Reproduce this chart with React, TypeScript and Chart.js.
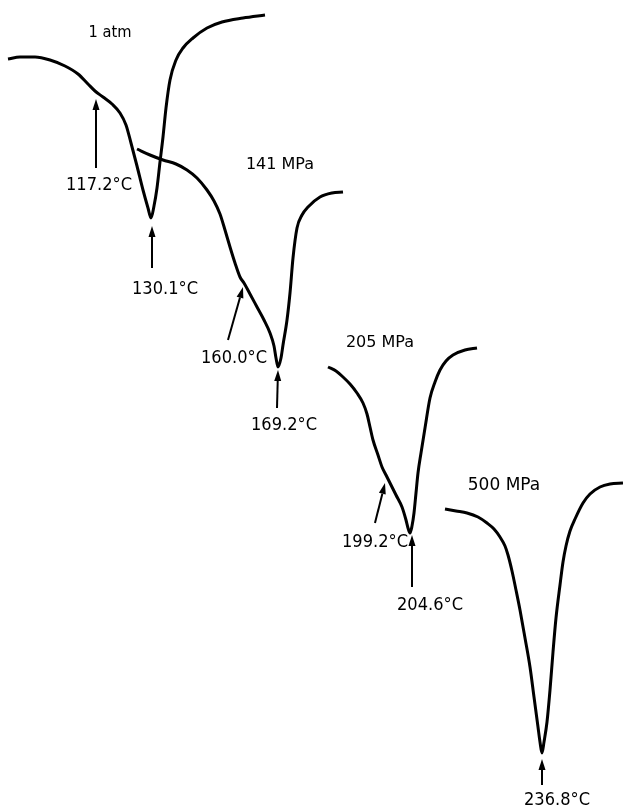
import React, { useEffect, useRef } from "react";
import { Chart, registerables } from "chart.js";
Chart.register(...registerables);

// Thermogram traces (horizontal = trace position, vertical = heat-flow deflection, downward positive)
const atmX = [8, 20, 35, 50, 65, 78, 88, 95, 103, 112, 120, 126, 131, 137, 143, 148, 151, 154, 157, 160, 163, 166, 170, 176, 183, 193, 207, 222, 243, 265];
const atmY = [59, 57, 57, 60, 66, 74, 84, 91, 97, 104, 113, 125, 143, 166, 190, 208, 218, 206, 188, 162, 137, 108, 80, 60, 48, 38, 28, 22, 18, 15];

const p141X = [137, 150, 163, 176, 187, 197, 207, 214, 220, 225, 230, 235, 240, 244, 250, 257, 264, 270, 274, 276, 278, 281, 283, 287, 290, 293, 297, 302, 308, 320, 332, 343];
const p141Y = [149, 155, 160, 164, 170, 178, 190, 201, 214, 230, 247, 263, 277, 283, 294, 307, 320, 333, 346, 358, 367, 358, 345, 320, 293, 258, 228, 215, 207, 197, 193, 192];

const p205X = [328, 336, 343, 350, 357, 363, 367, 370, 373, 378, 382, 386, 390, 396, 402, 406, 408, 410, 412, 414, 416, 418, 421, 425, 430, 435, 440, 446, 453, 465, 477];
const p205Y = [367, 371, 377, 384, 393, 403, 414, 427, 440, 455, 467, 475, 483, 495, 507, 520, 528, 533, 526, 513, 493, 473, 453, 428, 398, 382, 370, 361, 355, 350, 348];

const p500X = [445, 456, 467, 478, 487, 494, 500, 505, 508, 512, 516, 520, 525, 530, 534, 538, 540, 542, 544, 547, 550, 553, 556, 560, 563, 566, 570, 575, 583, 590, 600, 610, 623];
const p500Y = [509, 511, 513, 517, 523, 529, 537, 546, 555, 571, 590, 610, 638, 667, 697, 727, 742, 753, 742, 722, 690, 652, 618, 585, 562, 546, 531, 519, 503, 494, 487, 484, 483];

// Pressure labels
const pressureNames = ["1 atm", "141 MPa", "205 MPa", "500 MPa"];
const pressureLabelX = [110, 280, 380, 504];
const pressureLabelY = [33, 165, 343, 486];
const pressureLabelW = [43, 70, 75, 82];
const pressureFont = [15, 16, 16, 17];

// Transition temperature annotations
const tempLabels = ["117.2°C", "130.1°C", "160.0°C", "169.2°C", "199.2°C", "204.6°C", "236.8°C"];
const arrowTailX = [96, 152, 228, 277, 375, 412, 542];
const arrowTailY = [168, 268, 340, 408, 523, 587, 785];
const arrowTipX = [96, 152, 243, 278, 385, 412, 542];
const arrowTipY = [99, 226, 287, 370, 483, 535, 759];
const tempLabelX = [99, 165, 234, 284, 375, 430, 557];
const tempLabelY = [185, 289, 358, 425, 542, 605, 800];

const toPts = (xs: number[], ys: number[]) => xs.map((x, i) => ({ x, y: ys[i] }));

const annotate = {
  id: "annotate",
  afterDatasetsDraw(chart: any) {
    const ctx = chart.ctx;
    const sx = chart.scales.x;
    const sy = chart.scales.y;
    ctx.save();
    ctx.fillStyle = "#000";
    ctx.strokeStyle = "#000";
    ctx.textAlign = "center";
    ctx.textBaseline = "middle";
    pressureNames.forEach((t, i) => {
      ctx.font = `${pressureFont[i]}px 'DejaVu Sans'`;
      ctx.fillText(t, sx.getPixelForValue(pressureLabelX[i]), sy.getPixelForValue(pressureLabelY[i]), pressureLabelW[i]);
    });
    ctx.font = "18px 'DejaVu Sans'";
    tempLabels.forEach((t, i) => {
      ctx.fillText(t, sx.getPixelForValue(tempLabelX[i]), sy.getPixelForValue(tempLabelY[i]), 66);
    });
    ctx.lineWidth = 2;
    tempLabels.forEach((_, i) => {
      const x0 = sx.getPixelForValue(arrowTailX[i]);
      const y0 = sy.getPixelForValue(arrowTailY[i]);
      const x1 = sx.getPixelForValue(arrowTipX[i]);
      const y1 = sy.getPixelForValue(arrowTipY[i]);
      const a = Math.atan2(y1 - y0, x1 - x0);
      const hl = 11, hw = 3.5;
      const bx = x1 - hl * Math.cos(a), by = y1 - hl * Math.sin(a);
      ctx.beginPath();
      ctx.moveTo(x0, y0);
      ctx.lineTo(bx, by);
      ctx.stroke();
      ctx.beginPath();
      ctx.moveTo(x1, y1);
      ctx.lineTo(bx + hw * Math.sin(a), by - hw * Math.cos(a));
      ctx.lineTo(bx - hw * Math.sin(a), by + hw * Math.cos(a));
      ctx.closePath();
      ctx.fill();
    });
    ctx.restore();
  },
};

export default function App() {
  const ref = useRef<HTMLCanvasElement>(null);
  useEffect(() => {
    if (!ref.current) return;
    const mk = (label: string, xs: number[], ys: number[]) => ({
      label,
      data: toPts(xs, ys),
      borderColor: "#000",
      borderWidth: 3,
      pointRadius: 0,
      cubicInterpolationMode: "monotone" as const,
      fill: false,
      clip: false as any,
    });
    const chart = new Chart(ref.current, {
      type: "line",
      data: {
        datasets: [
          mk(pressureNames[0], atmX, atmY),
          mk(pressureNames[1], p141X, p141Y),
          mk(pressureNames[2], p205X, p205Y),
          mk(pressureNames[3], p500X, p500Y),
        ],
      },
      options: {
        animation: false,
        responsive: false,
        devicePixelRatio: 1,
        layout: { padding: 0 },
        scales: {
          x: { type: "linear", min: 0, max: 623, display: false },
          y: { type: "linear", min: 0, max: 807, reverse: true, display: false },
        },
        plugins: { legend: { display: false }, tooltip: { enabled: false } },
      },
      plugins: [annotate],
    });
    return () => chart.destroy();
  }, []);
  return (
    <div style={{ position: "fixed", left: 0, top: 0, width: 623, height: 807, background: "#fff" }}>
      <canvas ref={ref} width={623} height={807} />
    </div>
  );
}
